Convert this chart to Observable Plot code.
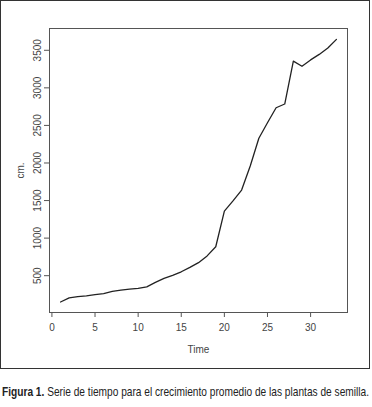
<!DOCTYPE html>
<html><head><meta charset="utf-8">
<script src="https://cdn.jsdelivr.net/npm/d3@7"></script>
<script src="https://cdn.jsdelivr.net/npm/@observablehq/plot@0.6"></script>
<style>
html,body{margin:0;padding:0;background:#fff;}
#wrap{position:relative;width:372px;height:407px;overflow:hidden;}
#border{position:absolute;left:0;top:0;width:368px;height:367px;border:1px solid #333;}
#chart{position:absolute;left:0;top:0;}
#cap{position:absolute;left:2px;top:384px;white-space:nowrap;font-family:"Liberation Sans Narrow","Liberation Sans",sans-serif;font-size:13.5px;color:#222;transform-origin:0 0;}
#cap b{font-weight:bold;}
</style></head>
<body><div id="wrap"><div id="border"></div><div id="chart"></div>
<div id="cap"><b>Figura 1.</b> Serie de tiempo para el crecimiento promedio de las plantas de semilla.</div></div>
<script>
const time = d3.range(1, 34);
const cm = [150, 205, 222, 232, 248, 262, 292, 307, 320, 332, 352, 410, 463, 505, 552, 610, 673, 763, 885,
  1360, 1495, 1640, 1960, 2330, 2535, 2735, 2785, 3355, 3288, 3372, 3445, 3530, 3645];
const xTicks = [0, 5, 10, 15, 20, 25, 30];
const yTicks = [500, 1000, 1500, 2000, 2500, 3000, 3500];
const data = time.map((t, i) => ({t, v: cm[i]}));

const chart = Plot.plot({
  width: 372, height: 372,
  marginLeft: 49, marginRight: 25, marginTop: 28, marginBottom: 60,
  style: {fontFamily: "Liberation Sans, Arial, sans-serif", fontSize: "10px", color: "#444", background: "transparent"},
  x: {domain: [-0.28, 34.28]},
  y: {domain: [10, 3790]},
  marks: [
    Plot.frame({stroke: "#555", strokeWidth: 1}),
    Plot.axisX({ticks: xTicks, tickFormat: d => String(d), tickSize: 5, tickPadding: 6, label: "Time", labelAnchor: "center", labelOffset: 40, labelArrow: "none", stroke: "#555"}),
    Plot.axisY({ticks: yTicks, tickFormat: d => String(d), tickSize: 5, tickPadding: 4, tickRotate: -90, label: "cm.", labelAnchor: "center", labelOffset: 33, labelArrow: "none", stroke: "#555"}),
    Plot.line(data, {x: "t", y: "v", stroke: "#222", strokeWidth: 1.3})
  ]
});
document.getElementById("chart").appendChild(chart);
const cap = document.getElementById("cap");
const w = cap.getBoundingClientRect().width;
cap.style.transform = `scaleX(${367 / w})`;
</script></body></html>
